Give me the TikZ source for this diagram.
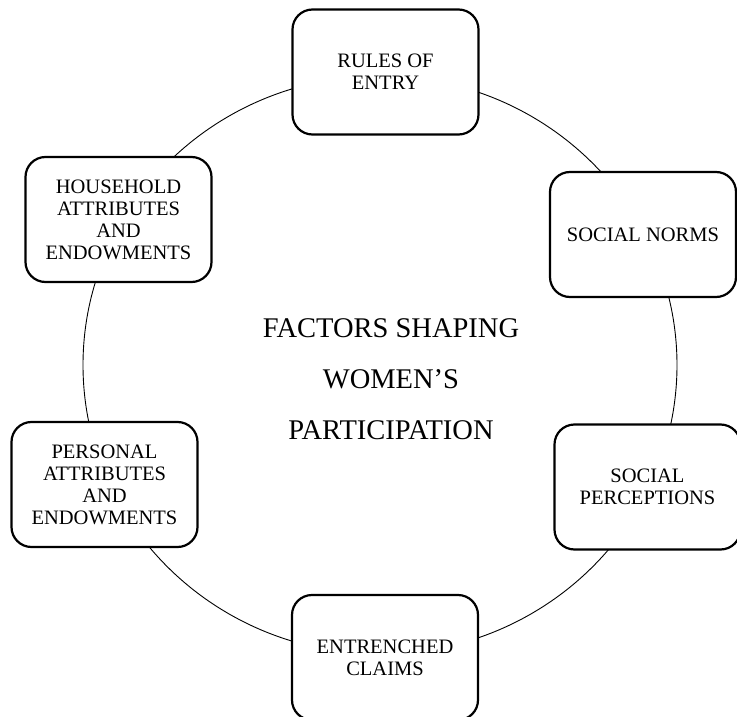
\documentclass[tikz,border=0pt]{standalone}
\usepackage{fontspec}
\setmainfont{Liberation Serif}
\begin{document}
\begin{tikzpicture}[x=1pt,y=-1pt,
  factor/.style={draw=black, line width=2.2pt, fill=white, rounded corners=20pt,
    minimum width=186pt, minimum height=125pt, align=center, inner sep=2pt,
    font=\fontsize{20.5}{22}\selectfont},
  title/.style={align=center, font=\fontsize{28.5}{51}\selectfont},
  ring/.style={draw=black, line width=0.9pt}]
\useasboundingbox (0,0) rectangle (737,717);
\draw[ring] (380,365) ellipse [x radius=297pt, y radius=289pt];
\node[factor] (rules) at (385.5,72) {RULES OF\\ENTRY};
\node[factor] (norms) at (643,234.5) {SOCIAL NORMS};
\node[factor] (perc) at (647.5,487) {SOCIAL\\PERCEPTIONS};
\node[factor] (claims) at (385,657.5) {ENTRENCHED\\CLAIMS};
\node[factor] (personal) at (104.5,484.5) {PERSONAL\\ATTRIBUTES\\AND\\ENDOWMENTS};
\node[factor] (household) at (118.5,219.5) {HOUSEHOLD\\ATTRIBUTES\\AND\\ENDOWMENTS};
\node[title] (center) at (391,379) {FACTORS SHAPING\\WOMEN’S\\PARTICIPATION};
\end{tikzpicture}
\end{document}
